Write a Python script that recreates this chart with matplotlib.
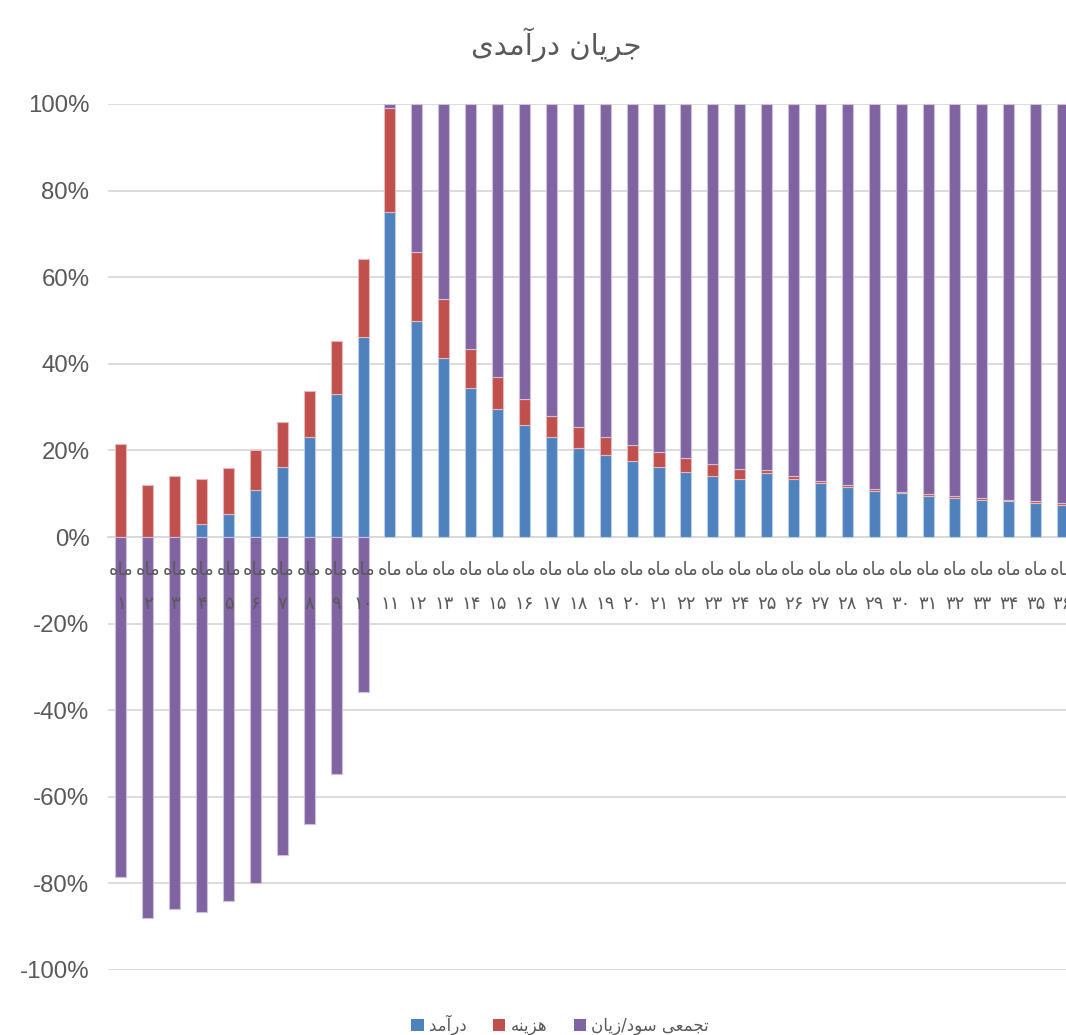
import matplotlib
matplotlib.use("Agg")
import matplotlib.pyplot as plt
from matplotlib.patches import Patch
import numpy as np

# ---------------- data (shares of each month, %) ----------------
months = list(range(1, 37))
income = [0, 0, 0, 3.0, 5.4, 10.9, 16.1, 23.2, 33.0, 46.1,
          75.0, 49.9, 41.3, 34.4, 29.5, 25.8, 23.1, 20.6, 19.0, 17.5,
          16.2, 15.1, 14.2, 13.3, 14.7, 13.3, 12.4, 11.5, 10.7, 10.1,
          9.5, 9.1, 8.6, 8.2, 7.8, 7.4]
cost = [21.5, 12.0, 14.0, 10.5, 10.5, 9.2, 10.4, 10.5, 12.3, 18.1,
        24.1, 15.9, 13.7, 9.0, 7.4, 6.1, 4.9, 4.8, 4.1, 3.7,
        3.5, 3.1, 2.7, 2.5, 0.7, 0.7, 0.5, 0.6, 0.5, 0.4,
        0.4, 0.4, 0.4, 0.3, 0.4, 0.4]
cumulative = [-78.5, -88.0, -86.0, -86.5, -84.1, -79.9, -73.5, -66.3, -54.7, -35.8,
              0.9, 34.2, 45.0, 56.6, 63.1, 68.1, 72.0, 74.6, 76.9, 78.8,
              80.3, 81.8, 83.1, 84.2, 84.6, 86.0, 87.1, 87.9, 88.8, 89.5,
              90.1, 90.5, 91.0, 91.5, 91.8, 92.2]
series_names = ["درآمد", "هزینه", "تجمعی سود/زیان"]
title_text = "جریان درآمدی"
month_word = "ماه"
yticks = [-100, -80, -60, -40, -20, 0, 20, 40, 60, 80, 100]

colors = ["#4F81BD", "#C0504D", "#8064A2"]
edges = ["#B9CDE5", "#E6B9B8", "#CCC1DA"]

# ---------------- minimal Arabic-script shaping ----------------
FORMS = {
    'ا': ('\uFE8D', '\uFE8E', None, None),
    'آ': ('\uFE81', '\uFE82', None, None),
    'ت': ('\uFE95', '\uFE96', '\uFE97', '\uFE98'),
    'ج': ('\uFE9D', '\uFE9E', '\uFE9F', '\uFEA0'),
    'د': ('\uFEA9', '\uFEAA', None, None),
    'ر': ('\uFEAD', '\uFEAE', None, None),
    'ز': ('\uFEAF', '\uFEB0', None, None),
    'س': ('\uFEB1', '\uFEB2', '\uFEB3', '\uFEB4'),
    'ع': ('\uFEC9', '\uFECA', '\uFECB', '\uFECC'),
    'م': ('\uFEE1', '\uFEE2', '\uFEE3', '\uFEE4'),
    'ن': ('\uFEE5', '\uFEE6', '\uFEE7', '\uFEE8'),
    'ه': ('\uFEE9', '\uFEEA', '\uFEEB', '\uFEEC'),
    'و': ('\uFEED', '\uFEEE', None, None),
    'ی': ('\uFBFC', '\uFBFD', '\uFBFE', '\uFBFF'),
}


def shape(text):
    out = []
    n = len(text)
    for i, ch in enumerate(text):
        if ch not in FORMS:
            out.append(ch)
            continue
        f = FORMS[ch]
        prev = text[i - 1] if i > 0 else None
        nxt = text[i + 1] if i < n - 1 else None
        prev_joins = prev in FORMS and FORMS[prev][2] is not None
        next_joins = nxt in FORMS and f[2] is not None
        if prev_joins and next_joins:
            out.append(f[3])
        elif prev_joins:
            out.append(f[1])
        elif next_joins:
            out.append(f[2])
        else:
            out.append(f[0])
    return ''.join(out)[::-1]


def fa_digits(num):
    return ''.join('۰۱۲۳۴۵۶۷۸۹'[int(d)] for d in str(num))


# ---------------- figure ----------------
W, H = 1066, 1035
fig = plt.figure(figsize=(W / 100, H / 100), dpi=100)
ax = fig.add_axes([107.5 / W, 1 - 970 / H, (1076 - 107.5) / W, (970 - 104) / H])

x = np.arange(len(months))
inc = np.array(income)
cst = np.array(cost)
cum = np.array(cumulative)

pos_bottom = np.zeros(len(x))
neg_bottom = np.zeros(len(x))
bw = 0.41
for vals, c, e in zip([inc, cst, cum], colors, edges):
    b = np.where(vals >= 0, pos_bottom, neg_bottom)
    ax.bar(x, vals, bottom=b, width=bw, color=c, edgecolor=e, linewidth=0.8, zorder=2)
    pos_bottom = pos_bottom + np.where(vals >= 0, vals, 0)
    neg_bottom = neg_bottom + np.where(vals < 0, vals, 0)

ax.set_xlim(-0.5, len(x) - 0.5)
ax.set_ylim(-100, 100)
ax.set_yticks(yticks)
ax.set_yticklabels([f"{v}%" for v in yticks], fontsize=17.3, color="#595959",
                   family=["Liberation Sans", "DejaVu Sans"])
ax.tick_params(axis="y", length=0, pad=13)
ax.yaxis.grid(True, color="#D9D9D9", linewidth=1.3)
ax.set_axisbelow(True)
ax.xaxis.set_zorder(5)

for s in ["top", "right", "left"]:
    ax.spines[s].set_visible(False)
ax.spines["bottom"].set_position(("data", 0))
ax.spines["bottom"].set_color("#D9D9D9")
ax.spines["bottom"].set_linewidth(1.3)
ax.spines["bottom"].set_zorder(1)

ax.set_xticks(x)
ax.set_xticklabels([shape(month_word) + "\n" + fa_digits(m) for m in months],
                   fontsize=13, color="#595959", family=["DejaVu Sans"],
                   linespacing=2.2)
ax.tick_params(axis="x", length=0, pad=17)

fig.text(556 / W, 1 - 45 / H, shape(title_text), ha="center", va="center",
         fontsize=21, color="#595959", family=["DejaVu Sans"])

handles = [Patch(facecolor=c, edgecolor="none") for c in colors]
fig.legend(handles, [shape(s) for s in series_names], loc="center",
           bbox_to_anchor=(560 / W, 1 - 1025 / H), ncol=3, frameon=False,
           prop={"family": "DejaVu Sans", "size": 12}, labelcolor="#595959",
           handlelength=0.75, handleheight=0.75, handletextpad=0.3,
           columnspacing=1.6)

fig.savefig("out.png", dpi=100)
